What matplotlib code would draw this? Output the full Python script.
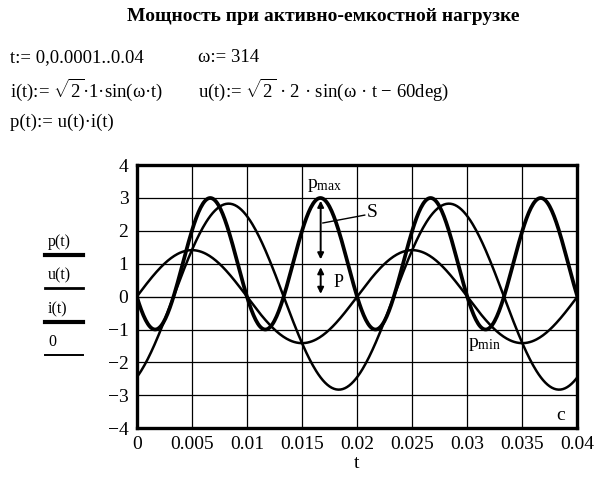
import numpy as np
import matplotlib
matplotlib.use('Agg')
import matplotlib.pyplot as plt

plt.rcParams['font.family'] = ['Liberation Serif', 'DejaVu Serif']
plt.rcParams['mathtext.fontset'] = 'custom'
plt.rcParams['mathtext.rm'] = 'Liberation Serif'
plt.rcParams['mathtext.it'] = 'Liberation Serif'

# parameters as written on the sheet
t_start, t_step, t_end = 0.0, 0.0001, 0.04
omega = 314
I_amp = np.sqrt(2) * 1
U_amp = np.sqrt(2) * 2
u_phase_deg = -60

x_ticks = [0, 0.005, 0.01, 0.015, 0.02, 0.025, 0.03, 0.035, 0.04]
x_labels = ['0', '0.005', '0.01', '0.015', '0.02', '0.025', '0.03', '0.035', '0.04']
y_ticks = [-4, -3, -2, -1, 0, 1, 2, 3, 4]
legend_names = ['p(t)', 'u(t)', 'i(t)', '0']

t = np.arange(t_start, t_end + t_step / 2, t_step)
i_t = I_amp * np.sin(omega * t)
u_t = U_amp * np.sin(omega * t + np.deg2rad(u_phase_deg))
p_t = u_t * i_t

fig = plt.figure(figsize=(6, 4.8), dpi=100)
fig.patch.set_facecolor('white')

# header
fig.text(0.538, 0.966, 'Мощность при активно-емкостной нагрузке', ha='center', va='center',
         fontsize=14, fontweight='bold')
fs = 13.5
fig.text(0.017, 0.880, 't:= 0,0.0001..0.04', fontsize=fs, va='center')
fig.text(0.33, 0.880, 'ω:= 314', fontsize=fs, va='center')
fig.text(0.017, 0.812, r'i(t):= $\sqrt{2}$·1·sin(ω·t)', fontsize=fs, va='center')
fig.text(0.33, 0.812, r'u(t):= $\sqrt{2}$ · 2 · sin(ω · t − 60deg)', fontsize=fs, va='center')
fig.text(0.017, 0.746, 'p(t):= u(t)·i(t)', fontsize=fs, va='center')

ax = fig.add_axes([0.228, 0.108, 0.734, 0.548])
ax.plot(t, p_t, color='black', lw=2.7)
ax.plot(t, u_t, color='black', lw=1.8)
ax.plot(t, i_t, color='black', lw=1.8)
ax.plot(t, np.zeros_like(t), color='black', lw=0.8)

ax.set_xlim(0, 0.04)
ax.set_ylim(-4, 4)
ax.set_xticks(x_ticks)
ax.set_xticklabels(x_labels)
ax.set_yticks(y_ticks)
ax.grid(True, color='black', lw=0.9)
ax.tick_params(length=0, labelsize=14, pad=6)
for s in ax.spines.values():
    s.set_linewidth(2.4)
ax.set_xlabel('t', fontsize=14, labelpad=1)

# annotations
t_pk = 0.0167
ax.annotate('', xy=(t_pk, 3), xytext=(t_pk, 1.05),
            arrowprops=dict(arrowstyle='<|-|>', color='black', lw=1.4, mutation_scale=9))
ax.annotate('', xy=(t_pk, 0.98), xytext=(t_pk, 0),
            arrowprops=dict(arrowstyle='<|-|>', color='black', lw=1.4, mutation_scale=9))
ax.plot([0.0169, 0.0207], [2.24, 2.48], color='black', lw=1.0)
ax.text(0.0171, 3.12, r'p$_{\rm max}$', fontsize=14, ha='center', va='bottom')
ax.text(0.0209, 2.55, 'S', fontsize=14, ha='left', va='center')
ax.text(0.0183, 0.44, 'P', fontsize=13, ha='center', va='center')
ax.text(0.0316, -1.45, r'p$_{\rm min}$', fontsize=14, ha='center', va='center')
ax.text(0.0385, -3.6, 'c', fontsize=14, ha='center', va='center')

# legend block on the left
leg_y = [0.469, 0.400, 0.329, 0.260]
leg_w = [3.0, 2.0, 3.0, 1.4]
for name, y, w in zip(legend_names, leg_y, leg_w):
    fig.text(0.08, y + 0.01, name, fontsize=11.5, va='bottom')
    fig.add_artist(plt.Line2D([0.075, 0.138], [y, y], color='black', lw=w))

fig.savefig('out.png', dpi=100, facecolor='white')
